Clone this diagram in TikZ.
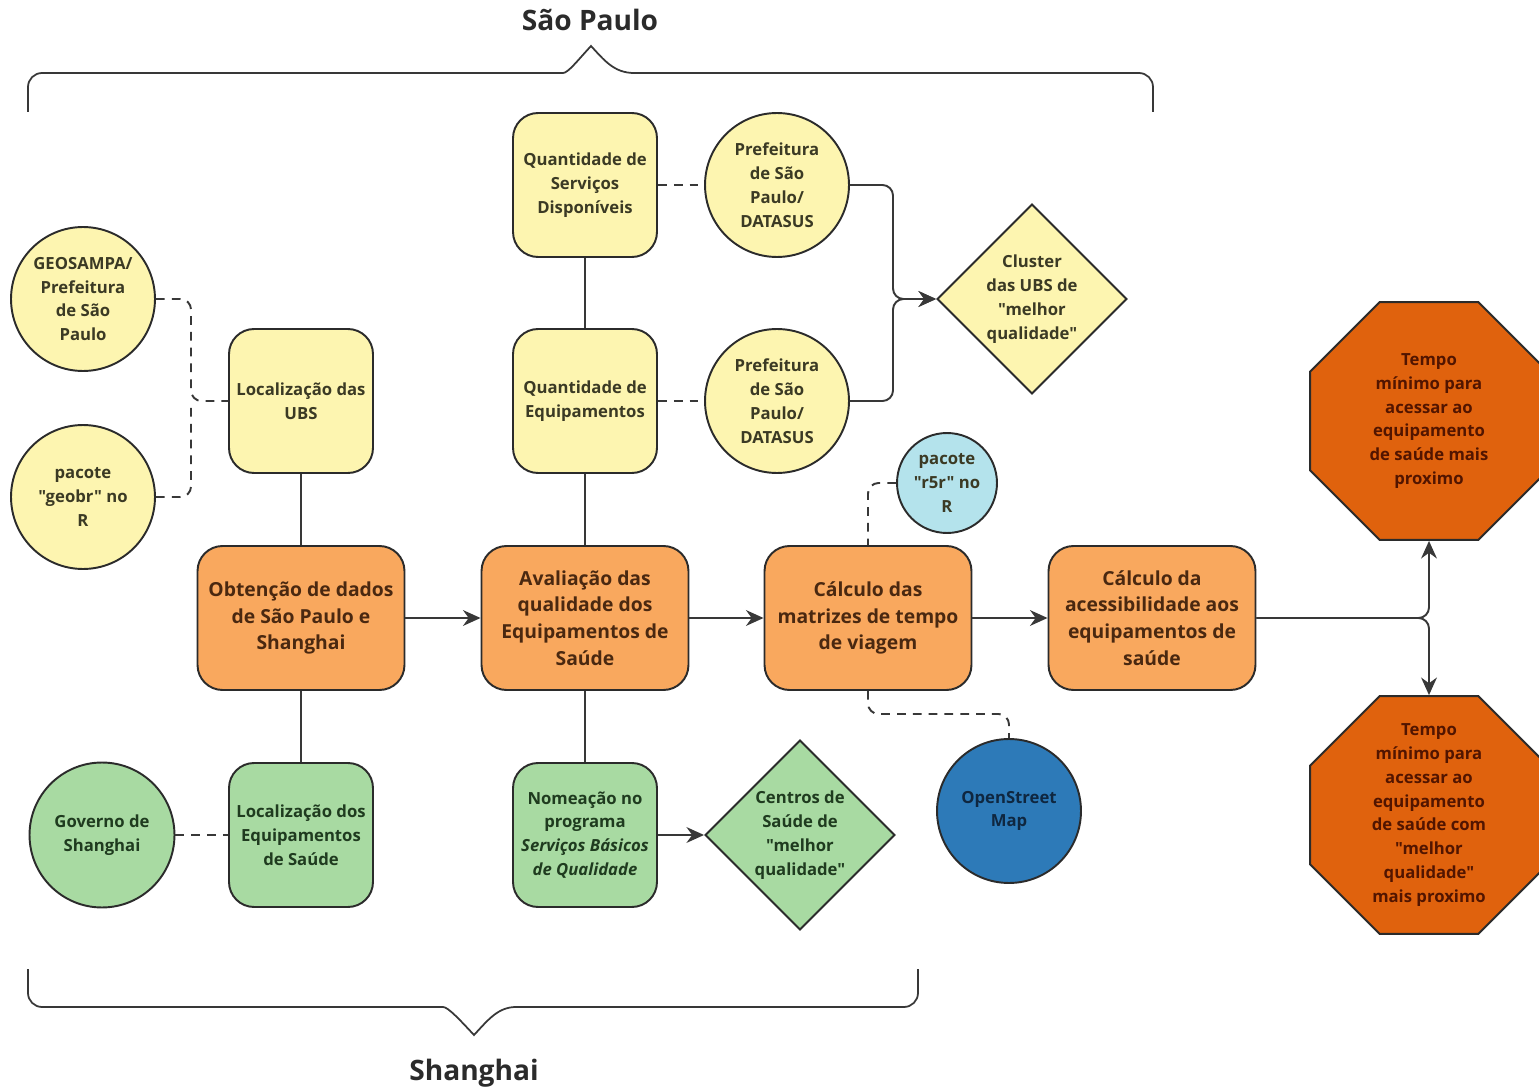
\documentclass[tikz,border=0pt]{standalone}
\usepackage{fontspec}
\setmainfont{Open Sans}[Ligatures=TeXOff]
\usetikzlibrary{shapes.geometric,arrows.meta}
\definecolor{edge}{HTML}{2B2B2B}
\definecolor{linec}{HTML}{383838}
\definecolor{yfill}{HTML}{FDF5B0}
\definecolor{ofill}{HTML}{F9A85E}
\definecolor{gfill}{HTML}{A8DAA2}
\definecolor{lbfill}{HTML}{B4E3EC}
\definecolor{bfill}{HTML}{2D7AB8}
\definecolor{ocfill}{HTML}{E0620D}
\definecolor{ytext}{HTML}{3B3A24}
\definecolor{otext}{HTML}{4A2810}
\definecolor{gtext}{HTML}{1F3B1F}
\definecolor{btext}{HTML}{0F2740}
\definecolor{octext}{HTML}{521500}
\begin{document}
\begin{tikzpicture}[x=0.02cm,y=-0.02cm,line width=1.1pt]
\tikzset{
  small/.style={font=\bfseries\fontsize{9.5}{13.6}\selectfont, align=center},
  big/.style={font=\bfseries\fontsize{11}{15.2}\selectfont, align=center},
  ybox/.style={small, draw=edge, fill=yfill, text=ytext, rounded corners=0.5cm, minimum width=2.88cm, minimum height=2.88cm, inner sep=2pt},
  gbox/.style={ybox, fill=gfill, text=gtext},
  obox/.style={big, draw=edge, fill=ofill, text=otext, rounded corners=0.5cm, minimum width=4.14cm, minimum height=2.88cm, inner sep=2pt},
  ycirc/.style={small, circle, draw=edge, fill=yfill, text=ytext, minimum size=2.88cm, inner sep=0pt},
  gcirc/.style={ycirc, fill=gfill, text=gtext, minimum size=2.9cm},
  lbcirc/.style={ycirc, fill=lbfill, text=ytext, minimum size=2cm},
  bcirc/.style={ycirc, fill=bfill, text=btext},
  ydiam/.style={diamond, draw=edge, fill=yfill, minimum width=3.8cm, minimum height=3.8cm, inner sep=0pt},
  gdiam/.style={ydiam, fill=gfill},
  oct/.style={regular polygon, regular polygon sides=8, draw=edge, fill=ocfill, minimum size=5.15cm, inner sep=0pt},
  lbl/.style={small, inner sep=0pt},
  title/.style={font=\bfseries\fontsize{16}{19}\selectfont, text=edge},
  link/.style={draw=linec, rounded corners=6pt},
  dlink/.style={link, dash pattern=on 5pt off 4pt},
  arr/.style={link, -{Stealth[length=10pt,width=9pt]}},
  brace/.style={draw=linec, line width=1pt}
}
\useasboundingbox (0,0) rectangle (1539,1091);

\node[title] (sp) at (590,20) {São Paulo};
\node[title] (sh) at (474,1073) {Shanghai};
\draw[brace] (28,112) [rounded corners=8pt] -- (28,73) -- (549,73) [sharp corners] .. controls (568,73) and (578,60) .. (591,46) .. controls (604,60) and (614,73) .. (634,73) [rounded corners=8pt] -- (1153,73) -- (1153,112);
\draw[brace] (28,969) [rounded corners=8pt] -- (28,1007) -- (429,1007) [sharp corners] .. controls (448,1007) and (460,1020) .. (474,1035) .. controls (488,1020) and (498,1007) .. (516,1007) [rounded corners=8pt] -- (918,1007) -- (918,969);

\node[ybox] (serv) at (585,185) {Quantidade de\\Serviços\\Disponíveis};
\node[ycirc] (pf1) at (777,185) {Prefeitura\\de São\\Paulo/\\DATASUS};
\node[ybox] (equip) at (585,401) {Quantidade de\\Equipamentos};
\node[ycirc] (pf2) at (777,401) {Prefeitura\\de São\\Paulo/\\DATASUS};
\node[ydiam] (cl) at (1032,299) {};
\node[lbl, text=ytext] (cl-t) at (cl) {Cluster\\das UBS de\\"melhor\\qualidade"};
\node[ycirc] (geo) at (83,299) {GEOSAMPA/\\Prefeitura\\de São\\Paulo};
\node[ycirc] (gbr) at (83,497) {pacote\\"geobr" no\\R};
\node[ybox] (ubs) at (301,401) {Localização das\\UBS};

\node[obox] (obt) at (301,618) {Obtenção de dados\\de São Paulo e\\Shanghai};
\node[obox] (aval) at (585,618) {Avaliação das\\qualidade dos\\Equipamentos de\\Saúde};
\node[obox] (mat) at (868,618) {Cálculo das\\matrizes de tempo\\de viagem};
\node[obox] (acc) at (1152,618) {Cálculo da\\acessibilidade aos\\equipamentos de\\saúde};
\node[lbcirc] (r5r) at (947,483) {pacote\\"r5r" no\\R};
\node[bcirc] (osm) at (1009,811) {OpenStreet\\Map};

\node[oct] (oc1) at (1429,421) {};
\node[lbl, text=octext] (oc1-t) at (oc1) {Tempo\\mínimo para\\acessar ao\\equipamento\\de saúde mais\\proximo};
\node[oct] (oc2) at (1429,815) {};
\node[lbl, text=octext] (oc2-t) at (oc2) {Tempo\\mínimo para\\acessar ao\\equipamento\\de saúde com\\"melhor\\qualidade"\\mais proximo};

\node[gcirc] (gov) at (102,835) {Governo de\\Shanghai};
\node[gbox] (loc) at (301,835) {Localização dos\\Equipamentos\\de Saúde};
\node[gbox] (nom) at (585,835) {Nomeação no\\programa\\\textit{Serviços Básicos}\\\textit{de Qualidade}};
\node[gdiam] (cen) at (800,835) {};
\node[lbl, text=gtext] (cen-t) at (cen) {Centros de\\Saúde de\\"melhor\\qualidade"};

\coordinate (jc) at (893,299);
\coordinate (jg) at (191,401);
\coordinate (jo) at (1009,714);

\draw[link] (serv) -- (equip);
\draw[dlink] (serv) -- (pf1);
\draw[dlink] (equip) -- (pf2);
\draw[arr] (pf1.east) -| (jc) -- (cl.west);
\draw[arr] (pf2.east) -| (jc) -- (cl.west);
\draw[dlink] (geo.east) -| (jg) -- (ubs.west);
\draw[dlink] (gbr.east) -| (jg);
\draw[link] (ubs) -- (obt);
\draw[link] (equip) -- (aval);
\draw[arr] (obt) -- (aval);
\draw[arr] (aval) -- (mat);
\draw[arr] (mat) -- (acc);
\draw[arr] (acc.east) -| (oc1.south);
\draw[arr] (acc.east) -| (oc2.north);
\draw[dlink] (r5r.west) -| (mat.north);
\draw[dlink] (mat.south) |- (jo) -- (osm.north);
\draw[link] (obt) -- (loc);
\draw[dlink] (gov) -- (loc);
\draw[link] (aval) -- (nom);
\draw[arr] (nom) -- (cen);
\end{tikzpicture}
\end{document}
